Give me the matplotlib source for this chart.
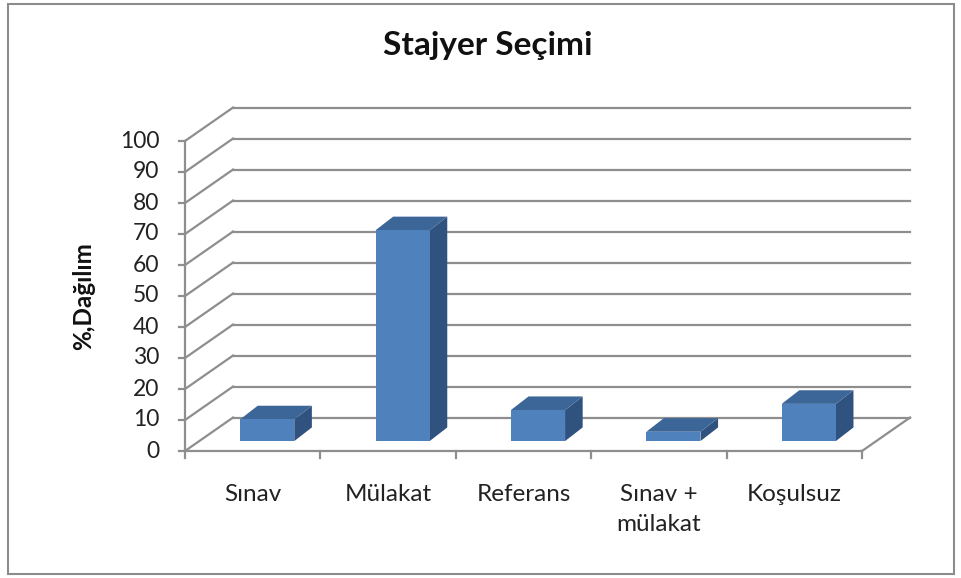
import numpy as np
import matplotlib.pyplot as plt
from matplotlib.patches import Polygon, Rectangle

# data
categories = ['Sınav', 'Mülakat', 'Referans', 'Sınav +\nmülakat', 'Koşulsuz']
values = [7, 68, 10, 3, 12]
yticks = list(range(0, 101, 10))

plt.rcParams['font.family'] = ['Lato', 'DejaVu Sans']

fig = plt.figure(figsize=(9.61, 5.78), dpi=100)
fig.patch.set_facecolor('white')
# outer border of the chart area
fig.patches.append(Rectangle((8 / 961, 4 / 578), 946 / 961, 570 / 578,
                             transform=fig.transFigure, fill=False,
                             edgecolor='#8c8c8c', linewidth=1.5))

ax = fig.add_axes([185 / 961, (578 - 451) / 578, 677 / 961, 310 / 578])
ax.set_xlim(-0.5, 4.5)
ax.set_ylim(0, 100)
ax.axis('off')

n = len(categories)
# depth of the floor / walls (in data units)
DX, DY = 0.355, 10.8
grid_c = '#8e8e8e'
lw = 1.6

# left wall diagonals + back wall gridlines
for v in yticks:
    ax.plot([-0.5, -0.5 + DX], [v, v + DY], color=grid_c, lw=lw, clip_on=False, zorder=1)
    ax.plot([-0.5 + DX, n - 0.5 + DX], [v + DY, v + DY], color=grid_c, lw=lw, clip_on=False, zorder=1)
    # y ticks
    ax.plot([-0.545, -0.5], [v, v], color=grid_c, lw=lw, clip_on=False, zorder=1)
    ax.text(-0.69, v, str(v), ha='right', va='center', fontsize=16.5, color='#222222')

# front axis line and floor
ax.plot([-0.5, -0.5], [0, 100], color=grid_c, lw=lw, clip_on=False, zorder=1)
ax.plot([-0.5, n - 0.5], [0, 0], color=grid_c, lw=lw, clip_on=False, zorder=1)
ax.plot([n - 0.5, n - 0.5 + DX], [0, DY], color=grid_c, lw=lw, clip_on=False, zorder=1)
for i in range(n + 1):
    ax.plot([i - 0.5, i - 0.5], [0, -2.3], color=grid_c, lw=lw, clip_on=False, zorder=1)

# bars (pseudo 3D)
sx, sy = 0.107, 3.2     # bar position inside the floor depth
w = 0.40
bdx, bdy = 0.13, 4.4    # bar depth
front_c, top_c, side_c = '#4f81bd', '#3c6698', '#30527f'
for i, v in enumerate(values):
    x0 = i + sx - w / 2
    x1 = i + sx + w / 2
    ax.add_patch(Polygon([(x1, sy), (x1 + bdx, sy + bdy), (x1 + bdx, sy + v + bdy), (x1, sy + v)],
                         closed=True, facecolor=side_c, edgecolor='none', zorder=3, clip_on=False))
    ax.add_patch(Polygon([(x0, sy + v), (x1, sy + v), (x1 + bdx, sy + v + bdy), (x0 + bdx, sy + v + bdy)],
                         closed=True, facecolor=top_c, edgecolor='none', zorder=3, clip_on=False))
    ax.add_patch(Rectangle((x0, sy), w, v, facecolor=front_c, edgecolor='none', zorder=4, clip_on=False))

# category labels
for i, c in enumerate(categories):
    ax.text(i, -10.8, c, ha='center', va='top', fontsize=17.5, color='#222222', linespacing=1.5)

ax.text(-1.25, 50, '%,Dağılım', rotation=90, ha='center', va='center',
        fontsize=17.5, fontweight='bold', color='#111111')

fig.text(488 / 961, 1 - 45 / 578, 'Stajyer Seçimi', ha='center', va='center',
         fontsize=24, fontweight='bold', color='#111111')

fig.savefig('out.png', dpi=100)
